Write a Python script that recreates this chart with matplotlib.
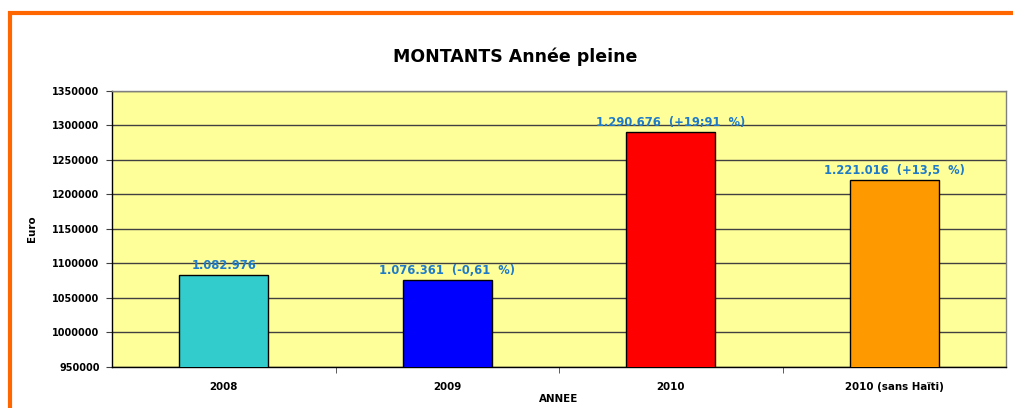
import matplotlib.pyplot as plt
from matplotlib.patches import Rectangle

categories = ["2008", "2009", "2010", "2010 (sans Haïti)"]
montants = [1082976, 1076361, 1290676, 1221016]
etiquettes = [
    "1.082.976",
    "1.076.361  (-0,61  %)",
    "1.290.676  (+19;91  %)",
    "1.221.016  (+13,5  %)",
]
couleurs = ["#33CCCC", "#0000FF", "#FF0000", "#FF9900"]
y_ticks = list(range(950000, 1350001, 50000))

plt.rcParams["font.family"] = ["DejaVu Sans"]

fig = plt.figure(figsize=(10.13, 4.08), dpi=100)
W, H = 1013, 408

# Cadre orange (coupé à droite et en bas)
fig.patches.append(Rectangle((10 / W, -0.1), 1.2, 1 - 13 / H + 0.1,
                             transform=fig.transFigure, fill=False,
                             edgecolor="#FF6600", linewidth=3))

ax = fig.add_axes([112 / W, 1 - 367 / H, (1006 - 112) / W, (367 - 91) / H])
ax.set_facecolor("#FFFF99")

x = list(range(len(categories)))
ax.bar(x, montants, width=0.4, color=couleurs, edgecolor="black",
       linewidth=1, zorder=3)

for xi, val, txt in zip(x, montants, etiquettes):
    ax.annotate(txt, (xi, val), xytext=(0, 2), textcoords="offset points",
                ha="center", va="bottom", fontsize=8.3, fontweight="bold",
                color="#1F7BC8", zorder=4)

ax.set_xlim(-0.5, len(categories) - 0.5)
ax.set_ylim(950000, 1350000)
ax.set_yticks(y_ticks)
ax.set_yticklabels([str(v) for v in y_ticks], fontsize=7, fontweight="bold")
ax.set_xticks(x)
ax.set_xticklabels(categories, fontsize=7.4, fontweight="bold")
ax.set_xticks([i + 0.5 for i in x[:-1]], minor=True)
ax.tick_params(axis="x", which="major", length=0, pad=11)
ax.tick_params(axis="x", which="minor", length=4, color="#404040")
ax.tick_params(axis="y", length=4, color="#404040", pad=5)

ax.grid(axis="y", color="#404040", linewidth=1, zorder=1)
for s in ["left", "bottom"]:
    ax.spines[s].set_color("black")
    ax.spines[s].set_linewidth(1)
for s in ["top", "right"]:
    ax.spines[s].set_color("#808080")
    ax.spines[s].set_linewidth(1)

ax.set_xlabel("ANNEE", fontsize=7.4, fontweight="bold", labelpad=1)
ax.set_ylabel("Euro", fontsize=7.4, fontweight="bold", labelpad=11)

fig.text(515 / W, 1 - 57 / H, "MONTANTS Année pleine", ha="center",
         va="center", fontsize=12.5, fontweight="bold")

fig.savefig("out.png", dpi=100)
